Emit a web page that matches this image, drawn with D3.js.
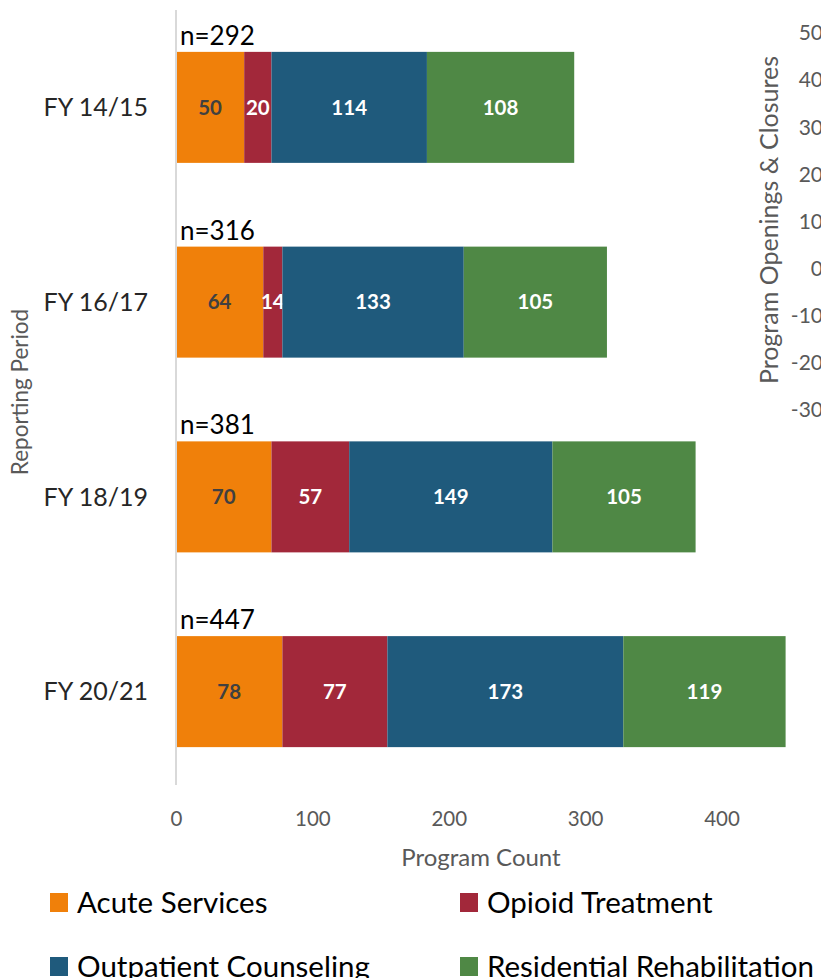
<!DOCTYPE html>
<html>
<head>
<meta charset="utf-8">
<script src="https://cdn.jsdelivr.net/npm/d3@7"></script>
<style>
  body { margin: 0; background: #fff; }
  svg { display: block; font-family: Lato, "Open Sans", sans-serif; }
</style>
</head>
<body>
<div id="chart"></div>
<script>
var periods = ["FY 14/15", "FY 16/17", "FY 18/19", "FY 20/21"];
var acute = [50, 64, 70, 78];
var opioid = [20, 14, 57, 77];
var outpatient = [114, 133, 149, 173];
var residential = [108, 105, 105, 119];
var totals = [292, 316, 381, 447];
var seriesNames = ["Acute Services", "Opioid Treatment", "Outpatient Counseling", "Residential Rehabilitation"];
var seriesColors = ["#f0800a", "#a2283a", "#1f5a7c", "#4f8845"];
var labelColors = ["#404040", "#fff", "#fff", "#fff"];
var xTicks = [0, 100, 200, 300, 400];
var rightTicks = [50, 40, 30, 20, 10, 0, -10, -20, -30];

var width = 821, height = 978;

var svg = d3.select("#chart").append("svg")
    .attr("width", width)
    .attr("height", height);

var rows = periods.map(function (p, i) {
    return {period: p, acute: acute[i], opioid: opioid[i], outpatient: outpatient[i], residential: residential[i], total: totals[i]};
});
var keys = ["acute", "opioid", "outpatient", "residential"];
var stacked = d3.stack().keys(keys)(rows);

var x = d3.scaleLinear().domain([0, 400]).range([176, 721.5]);
var y = d3.scaleBand().domain(periods).range([10, 789]).paddingInner(0.43).paddingOuter(0.215);
var yRight = d3.scaleLinear().domain([-30, 50]).range([410, 33]);

// secondary axis (cut off at the right edge)
svg.append("text")
    .attr("transform", "translate(778," + 220 + ") rotate(-90)")
    .attr("text-anchor", "middle")
    .attr("font-size", 25)
    .attr("fill", "#595959")
    .text("Program Openings & Closures");

svg.selectAll(".rtick")
    .data(rightTicks)
    .enter().append("text")
    .attr("class", "rtick")
    .attr("x", 823)
    .attr("y", function (d) { return yRight(d); })
    .attr("dy", "0.35em")
    .attr("text-anchor", "end")
    .attr("font-size", 21)
    .attr("fill", "#595959")
    .text(function (d) { return d; });

// bars
var layer = svg.selectAll(".layer")
    .data(stacked)
    .enter().append("g")
    .attr("class", "layer")
    .attr("fill", function (d, i) { return seriesColors[i]; });

layer.selectAll("rect")
    .data(function (d) { return d; })
    .enter().append("rect")
    .attr("x", function (d) { return x(d[0]); })
    .attr("width", function (d) { return x(d[1]) - x(d[0]); })
    .attr("y", function (d) { return y(d.data.period); })
    .attr("height", y.bandwidth());

layer.each(function (s, i) {
    d3.select(this).selectAll("text")
        .data(s)
        .enter().append("text")
        .attr("x", function (d) { return (x(d[0]) + x(d[1])) / 2; })
        .attr("y", function (d) { return y(d.data.period) + y.bandwidth() / 2; })
        .attr("dy", "0.35em")
        .attr("text-anchor", "middle")
        .attr("font-size", 20.5)
        .attr("font-weight", "bold")
        .attr("fill", labelColors[i])
        .text(function (d) { return d[1] - d[0]; });
});

// totals
svg.selectAll(".total")
    .data(rows)
    .enter().append("text")
    .attr("class", "total")
    .attr("x", 180)
    .attr("y", function (d) { return y(d.period) - 7; })
    .attr("font-size", 26)
    .attr("fill", "#000")
    .text(function (d) { return "n=" + d.total; });

// vertical axis line
svg.append("line")
    .attr("x1", 176).attr("x2", 176)
    .attr("y1", 10).attr("y2", 785)
    .attr("stroke", "#d9d9d9")
    .attr("stroke-width", 2);

// category labels
svg.selectAll(".cat")
    .data(periods)
    .enter().append("text")
    .attr("class", "cat")
    .attr("x", 148)
    .attr("y", function (d) { return y(d) + y.bandwidth() / 2; })
    .attr("dy", "0.35em")
    .attr("text-anchor", "end")
    .attr("font-size", 25)
    .attr("fill", "#262626")
    .text(function (d) { return d; });

svg.append("text")
    .attr("transform", "translate(28,392) rotate(-90)")
    .attr("text-anchor", "middle")
    .attr("font-size", 22.5)
    .attr("fill", "#595959")
    .text("Reporting Period");

// x axis
var xAxis = svg.append("g")
    .attr("transform", "translate(0,800)")
    .call(d3.axisBottom(x).tickValues(xTicks).tickSize(0).tickPadding(11));
xAxis.select(".domain").remove();
xAxis.selectAll("text")
    .attr("font-size", 20.5)
    .attr("font-family", "Lato, sans-serif")
    .attr("fill", "#595959");

svg.append("text")
    .attr("x", 481)
    .attr("y", 866)
    .attr("text-anchor", "middle")
    .attr("font-size", 24)
    .attr("fill", "#595959")
    .text("Program Count");

// legend
var legend = svg.selectAll(".legend")
    .data(seriesNames)
    .enter().append("g")
    .attr("class", "legend")
    .attr("transform", function (d, i) {
        return "translate(" + (i % 2 === 0 ? 50 : 460) + "," + (i < 2 ? 893 : 957) + ")";
    });

legend.append("rect")
    .attr("width", 18)
    .attr("height", 19)
    .attr("fill", function (d, i) { return seriesColors[i]; });

legend.append("text")
    .attr("x", 27)
    .attr("y", 9.5)
    .attr("dy", "0.35em")
    .attr("font-size", 29.5)
    .attr("fill", "#000")
    .text(function (d) { return d; });
</script>
</body>
</html>
